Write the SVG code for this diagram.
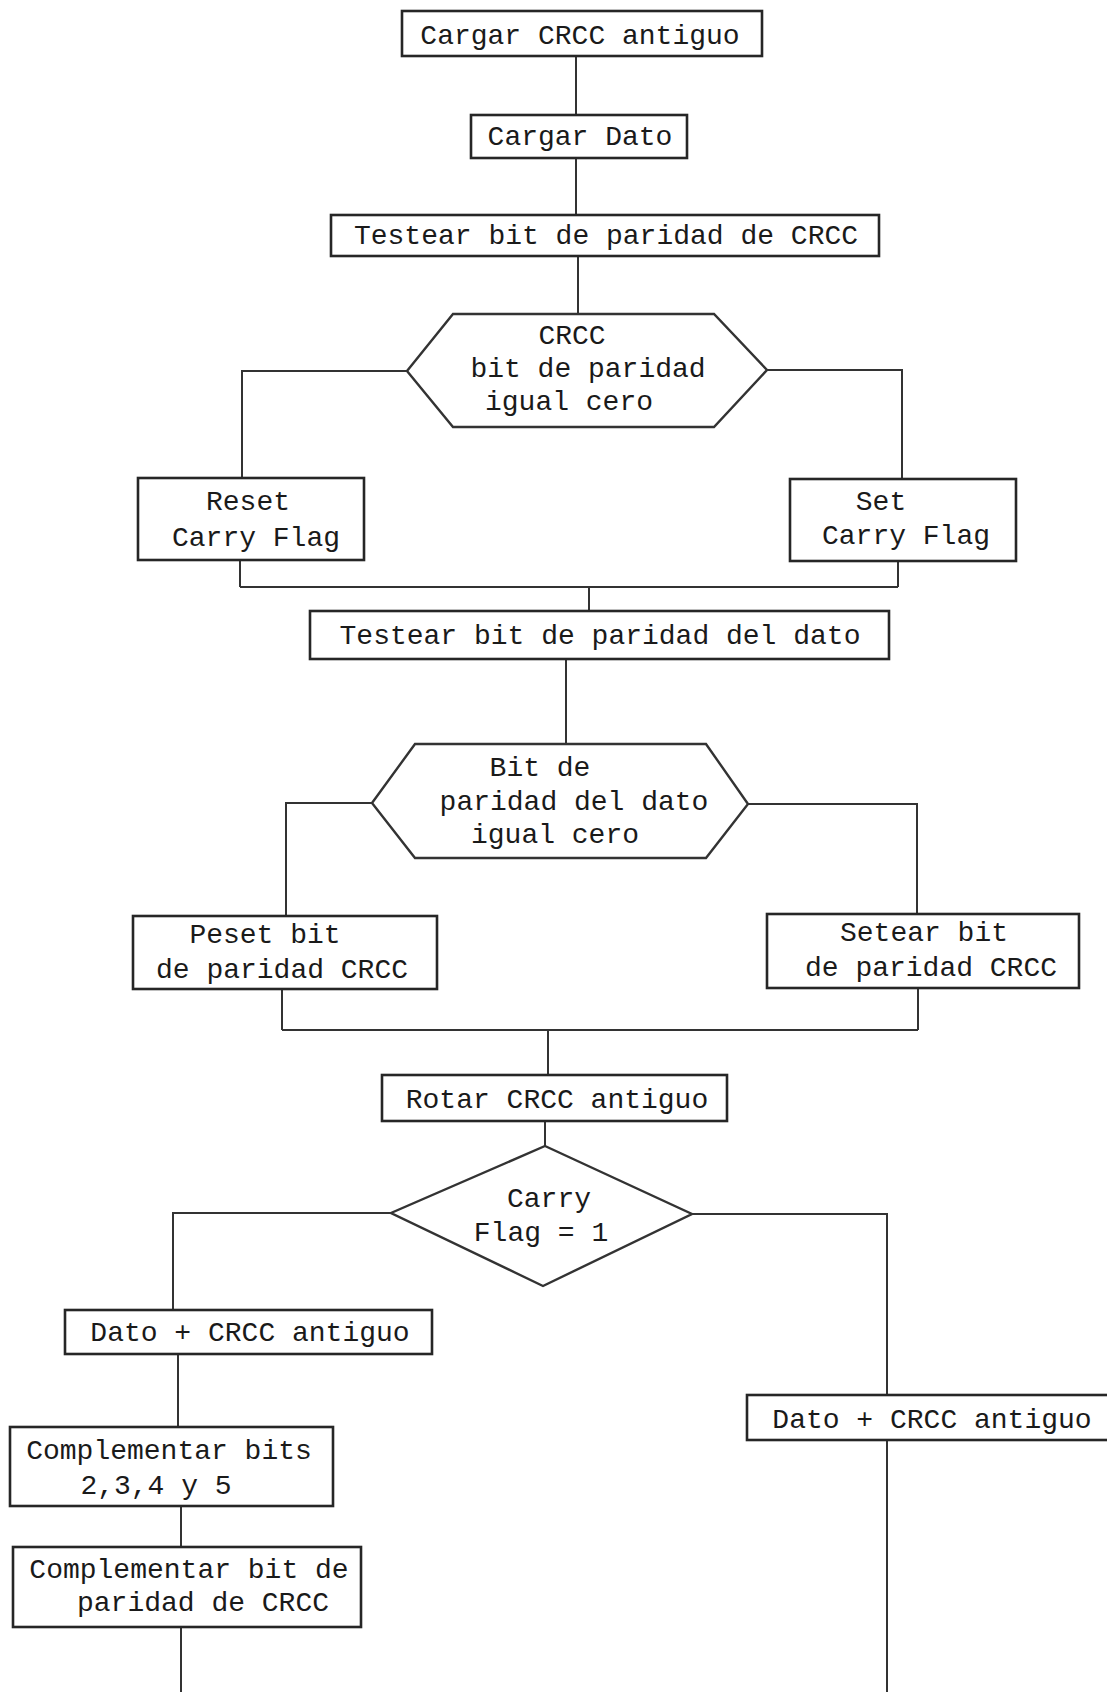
<svg xmlns="http://www.w3.org/2000/svg" width="1107" height="1692" viewBox="0 0 1107 1692">
<style>
.box{fill:#fff;stroke:#262626;stroke-width:2.6}
.shape{fill:#fff;stroke:#333;stroke-width:2.4}
.con{fill:none;stroke:#333;stroke-width:2}
text{font-family:"Liberation Mono","DejaVu Sans Mono",monospace;font-size:28px;fill:#1a1a1a;text-anchor:middle}
</style>
<rect width="1107" height="1692" fill="#fff"/>
<g id="connectors">
<path class="con" d="M576 56V115"/>
<path class="con" d="M576 158V215"/>
<path class="con" d="M578 256V314"/>
<path class="con" d="M407 371H242V478"/>
<path class="con" d="M767 370H902V479"/>
<path class="con" d="M240 560V587M898 561V587M240 587H898M589 587V611"/>
<path class="con" d="M566 659V744"/>
<path class="con" d="M372 803H286V916"/>
<path class="con" d="M748 804H917V914"/>
<path class="con" d="M282 989V1030M918 988V1030M282 1030H918M548 1030V1075"/>
<path class="con" d="M545 1121V1146"/>
<path class="con" d="M391 1213H173V1310"/>
<path class="con" d="M178 1354V1427"/>
<path class="con" d="M181 1506V1547"/>
<path class="con" d="M181 1627V1692"/>
<path class="con" d="M692 1214H887V1395"/>
<path class="con" d="M887 1440V1692"/>
</g>
<g id="n1"><rect class="box" x="402" y="11" width="360" height="45"/><text x="580" y="44">Cargar CRCC antiguo</text></g>
<g id="n2"><rect class="box" x="471" y="115" width="216" height="43"/><text x="580" y="145">Cargar Dato</text></g>
<g id="n3"><rect class="box" x="331" y="215" width="548" height="41"/><text x="606" y="244">Testear bit de paridad de CRCC</text></g>
<g id="n4"><polygon class="shape" points="453,314 714,314 767,370 714,427 453,427 407,371"/><text x="572" y="344">CRCC</text><text x="588" y="377">bit de paridad</text><text x="569" y="410">igual cero</text></g>
<g id="n5"><rect class="box" x="138" y="478" width="226" height="82"/><text x="248" y="510">Reset</text><text x="256" y="546">Carry Flag</text></g>
<g id="n6"><rect class="box" x="790" y="479" width="226" height="82"/><text x="881" y="510">Set</text><text x="906" y="544">Carry Flag</text></g>
<g id="n7"><rect class="box" x="310" y="611" width="579" height="48"/><text x="600" y="644">Testear bit de paridad del dato</text></g>
<g id="n8"><polygon class="shape" points="415,744 706,744 748,804 706,858 415,858 372,803"/><text x="540" y="776">Bit de</text><text x="574" y="810">paridad del dato</text><text x="555" y="843">igual cero</text></g>
<g id="n9"><rect class="box" x="133" y="916" width="304" height="73"/><text x="265" y="943">Peset bit</text><text x="282" y="978">de paridad CRCC</text></g>
<g id="n10"><rect class="box" x="767" y="914" width="312" height="74"/><text x="924" y="941">Setear bit</text><text x="931" y="976">de paridad CRCC</text></g>
<g id="n11"><rect class="box" x="382" y="1075" width="345" height="46"/><text x="557" y="1108">Rotar CRCC antiguo</text></g>
<g id="n12"><polygon class="shape" points="545,1146 692,1214 543,1286 391,1213"/><text x="549" y="1207">Carry</text><text x="541" y="1241">Flag = 1</text></g>
<g id="n13"><rect class="box" x="65" y="1310" width="367" height="44"/><text x="250" y="1341">Dato + CRCC antiguo</text></g>
<g id="n14"><rect class="box" x="10" y="1427" width="323" height="79"/><text x="169" y="1459">Complementar bits</text><text x="156" y="1494">2,3,4 y 5</text></g>
<g id="n15"><rect class="box" x="13" y="1547" width="348" height="80"/><text x="189" y="1578">Complementar bit de</text><text x="203" y="1611">paridad de CRCC</text></g>
<g id="n16"><rect class="box" x="747" y="1395" width="370" height="45"/><text x="932" y="1428">Dato + CRCC antiguo</text></g>
</svg>
